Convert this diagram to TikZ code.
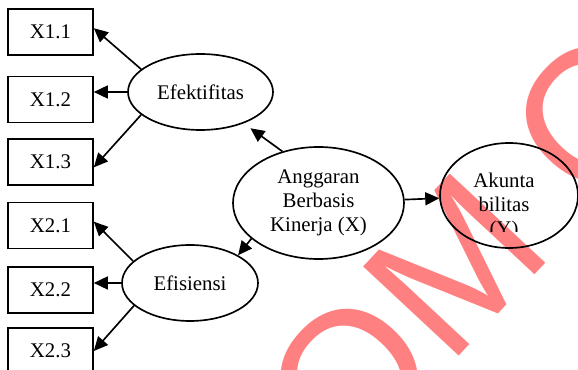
\documentclass[tikz,border=0pt]{standalone}
\usepackage{fontspec}
\setmainfont{Liberation Serif}
\newfontfamily\wmfont{Liberation Sans}
\usetikzlibrary{shapes.geometric}
\usetikzlibrary{arrows.meta}
\definecolor{wmred}{RGB}{255,128,128}
\tikzstyle{indicator}=[draw, line width=1pt, inner sep=0pt, minimum width=51pt, minimum height=27.6pt, font=\fontsize{12.5}{14.5}\selectfont]
\tikzstyle{construct}=[draw, ellipse, line width=1pt, inner sep=0pt, align=center, font=\fontsize{12.5}{14.5}\selectfont]
\tikzstyle{link}=[line width=1pt, -{Triangle[length=8.4pt, width=7.8pt]}]

\begin{document}
\begin{tikzpicture}[x=0.6pt, y=-0.6pt]
        \useasboundingbox (0,0) rectangle (578,370);
        \begin{scope}
            \clip (0,0) rectangle (578,370);
            \node[text=wmred, rotate=47, inner sep=0pt, font=\wmfont\fontsize{114}{114}\selectfont] (mark) at (469,250) {OM C};
        \end{scope}
        \node[indicator] (x11) at (50.5,32) {X1.1};
        \node[indicator] (x12) at (50.5,99.5) {X1.2};
        \node[indicator] (x13) at (50.5,162) {X1.3};
        \node[indicator] (x21) at (50.5,225.5) {X2.1};
        \node[indicator] (x22) at (50.5,290) {X2.2};
        \node[indicator] (x23) at (50.5,351) {X2.3};
        \node[construct, minimum width=87pt, minimum height=45.6pt] (efek) at (200.5,92) {Efektifitas};
        \node[construct, minimum width=81.6pt, minimum height=45.6pt] (efis) at (190,283) {Efisiensi};
        \node[construct, minimum width=102.6pt, minimum height=67.2pt] (angg) at (318.5,203) {Anggaran\\Berbasis\\Kinerja (X)};
        \node[construct, minimum width=82.8pt, minimum height=63pt] (akun) at (509,195.5) {};
        \begin{scope}
            \clip (440,100) rectangle (578,231.5);
            \node[inner sep=0pt, align=center, font=\fontsize{12.5}{14.5}\selectfont] (akuntext) at (504,206.5) {Akunta\\bilitas\\(Y)};
        \end{scope}
        \draw[link] (efek.159) -- (x11.5);
        \draw[link] (efek.west) -- (efek.west -| x12.east);
        \draw[link] (efek.-159) -- (x13.-7);
        \draw[link] (efis.159) -- (x21.5);
        \draw[link] (efis.west) -- (efis.west -| x22.east);
        \draw[link] (efis.-158) -- (x23.east);
        \draw[link, shorten >=5pt] (angg.125) -- (efek.-36);
        \draw[link] (angg.208) -- (efis.30);
        \draw[link] (angg) -- (akun);
    \end{tikzpicture}
\end{document}
